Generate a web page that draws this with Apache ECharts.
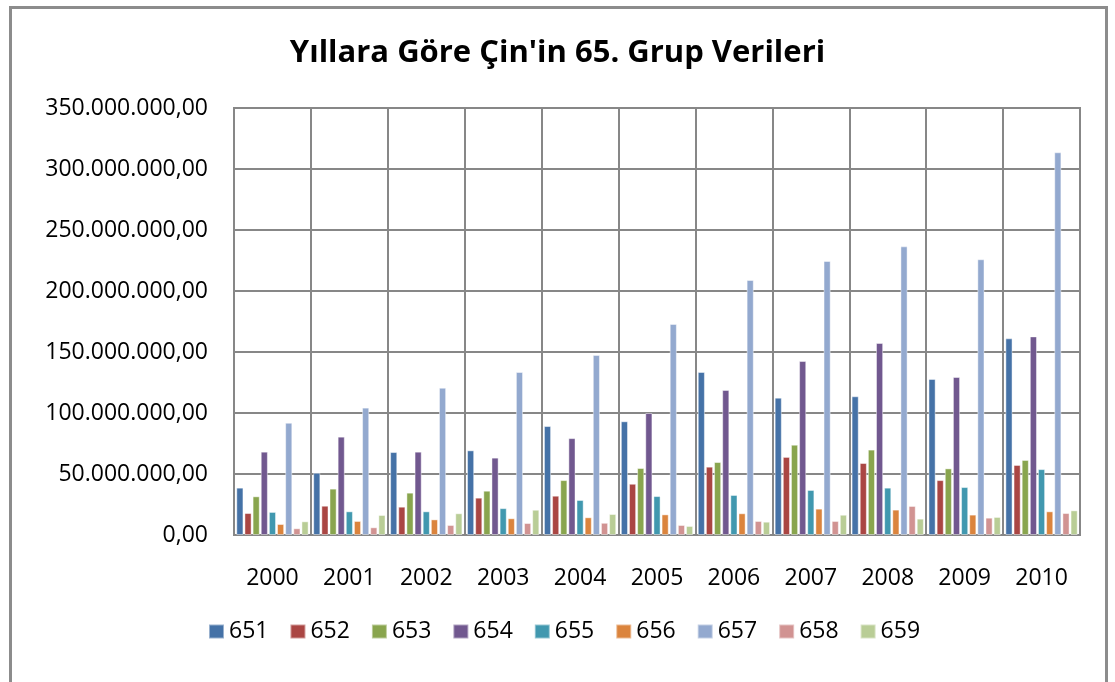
<!DOCTYPE html>
<html>
<head>
<meta charset="utf-8">
<title>Yıllara Göre Çin'in 65. Grup Verileri</title>
<script src="https://cdn.jsdelivr.net/npm/echarts@6/dist/echarts.min.js"></script>
<style>
  html, body { margin:0; padding:0; background:#fff; }
  #chart { width:1115px; height:682px; }
</style>
</head>
<body>
<div id="chart"></div>
<script>
// values in millions
const years = ['2000','2001','2002','2003','2004','2005','2006','2007','2008','2009','2010']
const s651 = [38.8, 51.0, 68.0, 69.4, 89.3, 93.2, 133.6, 112.6, 113.7, 127.9, 161.2]
const s652 = [18.0, 24.0, 23.2, 30.6, 32.2, 42.0, 56.0, 64.0, 59.0, 45.0, 57.4]
const s653 = [31.7, 38.0, 34.7, 36.3, 45.0, 54.9, 59.8, 74.0, 70.0, 54.6, 61.5]
const s654 = [68.3, 80.6, 68.3, 63.4, 79.4, 100.0, 118.9, 142.6, 157.4, 129.5, 162.8]
const s655 = [18.9, 19.4, 19.4, 22.0, 28.7, 31.9, 32.8, 36.9, 38.8, 39.3, 54.0]
const s656 = [9.0, 11.5, 12.8, 13.7, 14.5, 16.9, 17.8, 21.6, 20.8, 16.7, 19.4]
const s657 = [92.0, 104.4, 120.7, 133.6, 147.5, 173.0, 209.0, 224.6, 236.6, 226.0, 313.7]
const s658 = [5.5, 6.3, 8.2, 9.8, 10.0, 8.2, 11.5, 11.5, 23.8, 14.2, 18.0]
const s659 = [11.2, 16.4, 17.8, 20.7, 17.2, 7.4, 10.9, 16.6, 13.4, 14.8, 20.2]

const seriesNames = ['651','652','653','654','655','656','657','658','659']
const seriesData = [s651, s652, s653, s654, s655, s656, s657, s658, s659]
const colors = ['#4572A7','#AA4643','#89A54E','#71588F','#4198AF','#DB843D','#93A9CF','#D19392','#B9CD96']

const FONT = '"Open Sans", "Noto Sans", sans-serif'
const GRID_COLOR = '#878787'

function trNumber(millions){
  const n = Math.round(millions * 1e6)
  return String(n).replace(/\B(?=(\d{3})+(?!\d))/g, '.') + ',00'
}

const chart = echarts.init(document.getElementById('chart'), null, { renderer: 'canvas' })
chart.setOption({
  animation: false,
  backgroundColor: '#fff',
  color: colors,
  title: {
    text: "Yıllara Göre Çin'in 65. Grup Verileri",
    left: 'center',
    top: 33,
    textStyle: { fontFamily: FONT, fontWeight: 'bold', fontSize: 31, color: '#000' },
  },
  graphic: [{
    type: 'rect',
    shape: { x: 10.5, y: 7.5, width: 1096, height: 700 },
    style: { fill: 'none', stroke: '#8c8c8c', lineWidth: 3 },
    silent: true,
  }],
  legend: {
    left: 203,
    top: 615,
    itemWidth: 15,
    itemHeight: 14,
    itemGap: 21,
    icon: 'rect',
    textStyle: { fontFamily: FONT, fontSize: 23, color: '#000' },
    data: seriesNames,
  },
  grid: {
    left: 234, right: 35, top: 108, bottom: 147,
    show: true, borderColor: GRID_COLOR, borderWidth: 2,
  },
  xAxis: {
    type: 'category',
    data: years,
    axisTick: { show: false },
    axisLine: { show: true, lineStyle: { color: GRID_COLOR, width: 2 } },
    splitLine: { show: true, interval: 0, lineStyle: { color: GRID_COLOR, width: 2 } },
    axisLabel: { fontFamily: FONT, fontSize: 23, color: '#000', margin: 32, interval: 0 },
  },
  yAxis: {
    type: 'value',
    min: 0, max: 350, interval: 50,
    axisLine: { show: false },
    axisTick: { show: false },
    splitLine: { show: true, lineStyle: { color: GRID_COLOR, width: 2 } },
    axisLabel: { fontFamily: FONT, fontSize: 23, color: '#000', margin: 26, formatter: trNumber },
  },
  series: seriesNames.map((name, i) => ({
    name,
    type: 'bar',
    data: seriesData[i],
    barGap: '14%',
    barCategoryGap: '6%',
    itemStyle: { borderColor: 'rgba(255,255,255,0.45)', borderWidth: 1 },
  })),
})
</script>
</body>
</html>
